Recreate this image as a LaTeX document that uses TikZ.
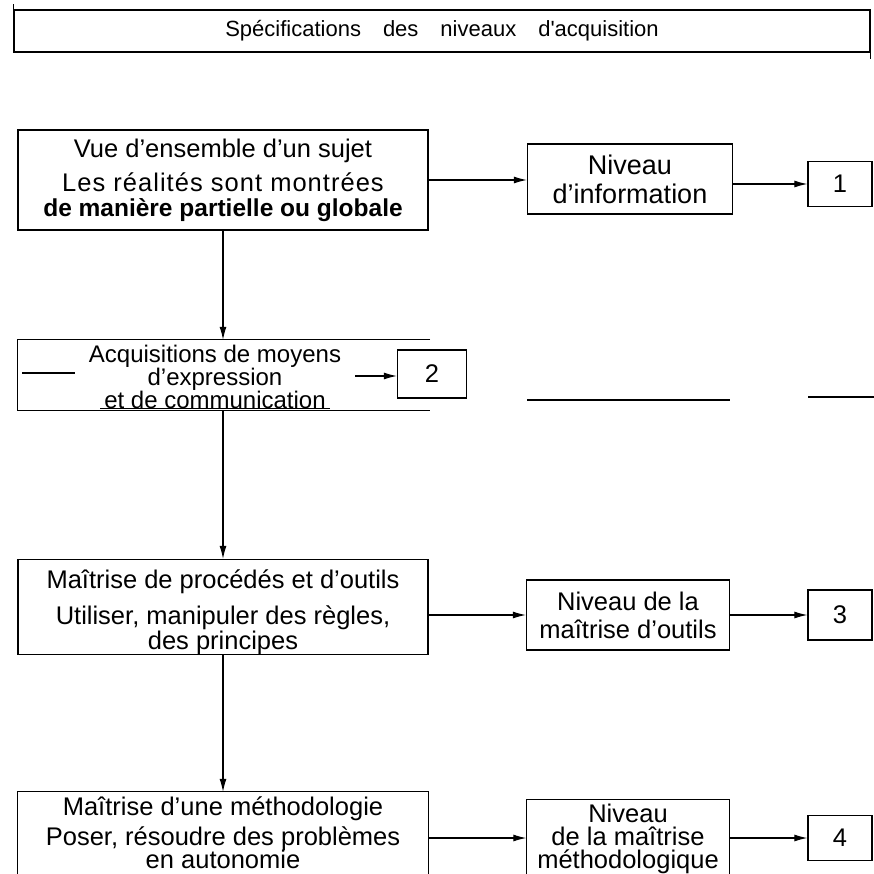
\documentclass[tikz,border=0pt]{standalone}
\usepackage{fontspec}
\setmainfont{Liberation Sans}
\usetikzlibrary{arrows.meta}
\begin{document}
\begin{tikzpicture}[x=1pt,y=-1pt,
  box/.style={draw, line width=1.3pt, inner sep=0pt, align=center, font=\fontsize{25.5}{28}\selectfont},
  frame/.style={inner sep=0pt},
  edge/.style={line width=1.3pt},
  txt/.style={inner sep=0pt, align=center, font=\fontsize{25.5}{28}\selectfont},
  arr/.style={-{Latex[length=13pt,width=7pt]}, line width=1.1pt}]
\useasboundingbox (0,0) rectangle (874,874);

% title
\node[box, minimum width=856pt, minimum height=42pt, font=\fontsize{22}{26}\selectfont] (title) at (442,31)
  {Spécifications\hspace{1em}des\hspace{1em}niveaux\hspace{1em}d\textquotesingle acquisition};
\draw[edge] (title.north west) -- ++(0,-5);
\draw[edge] (title.south east) -- ++(0,6);

% row 1
\node[box, minimum width=410pt, minimum height=100pt] (b1) at (223,180)
  {Vue d’ensemble d’un sujet\\[6pt]{\addfontfeature{LetterSpace=4}Les réalités sont montrées}\\[-3pt]\fontsize{24.5}{27}\selectfont\textbf{de manière partielle ou globale}};
\node[box, minimum width=205pt, minimum height=70pt, font=\fontsize{27}{29}\selectfont] (n1) at (630,179) {Niveau\\d’information};
\node[box, minimum width=64pt, minimum height=45pt] (o1) at (840,184) {1};
\draw[arr] (b1.east) -- (b1.east -| n1.west);
\draw[arr] (n1.east |- o1) -- (o1.west);

% row 2
\node[frame, minimum width=412pt, minimum height=70pt] (b2) at (224,375) {};
\draw[edge] (b2.north east) -- (b2.north west) -- (b2.south west) -- (b2.south east);
\node[txt, font=\fontsize{24}{22}\selectfont] (b2t) at (215,377) {Acquisitions de moyens\\d’expression\\et de communication};
\coordinate (s1) at (22,373); \coordinate (s2) at (75,373);
\draw[edge] (s1) -- (s2);
\coordinate (u1) at (100,408); \coordinate (u2) at (330,408);
\draw[line width=0.8pt] (u1) -- (u2);
\node[box, minimum width=69pt, minimum height=48pt] (o2) at (432,374) {2};
\coordinate (a2) at (355,376);
\draw[arr] (a2) -- (a2 -| o2.west);
\coordinate (l1) at (527,400); \coordinate (l2) at (730,400);
\coordinate (l3) at (808,397); \coordinate (l4) at (874,397);
\draw[line width=1.6pt] (l1) -- (l2);
\draw[line width=1.6pt] (l3) -- (l4);

% row 3
\node[box, minimum width=410pt, minimum height=95pt] (b3) at (223,607) {};
\node[txt] (b3t) at (223,612)
  {Maîtrise de procédés et d’outils\\[8pt]Utiliser, manipuler des règles,\\[-3pt]des principes};
\node[box, minimum width=203pt, minimum height=70pt] (n3) at (628,615) {Niveau de la\\maîtrise d’outils};
\node[box, minimum width=64pt, minimum height=50pt] (o3) at (840,615) {3};
\draw[arr] (b3.east |- n3) -- (n3.west);
\draw[arr] (n3.east) -- (o3.west);

% row 4
\node[frame, minimum width=410pt, minimum height=98pt] (b4) at (223,841) {};
\draw[edge] (b4.south west) -- (b4.north west) -- (b4.north east) -- (b4.south east);
\node[txt] (b4t) at (223,833) {Maîtrise d’une méthodologie\\[2pt]Poser, résoudre des problèmes\\[-5pt]en autonomie};
\node[frame, minimum width=203pt, minimum height=90pt] (n4) at (628,845) {};
\draw[edge] (n4.south west) -- (n4.north west) -- (n4.north east) -- (n4.south east);
\node[txt, font=\fontsize{25.5}{23}\selectfont] (n4t) at (628,839) {Niveau\\de la maîtrise\\méthodologique};
\node[box, minimum width=64pt, minimum height=45pt] (o4) at (840,838) {4};
\draw[arr] (b4.east |- o4) -- (n4.west |- o4);
\draw[arr] (n4.east |- o4) -- (o4.west);

% vertical arrows
\draw[arr] (b1.south) -- (b1.south |- b2.north);
\draw[arr] (b2.south -| b1.south) -- (b1.south |- b3.north);
\draw[arr] (b3.south) -- (b3.south |- b4.north);
\end{tikzpicture}
\end{document}
